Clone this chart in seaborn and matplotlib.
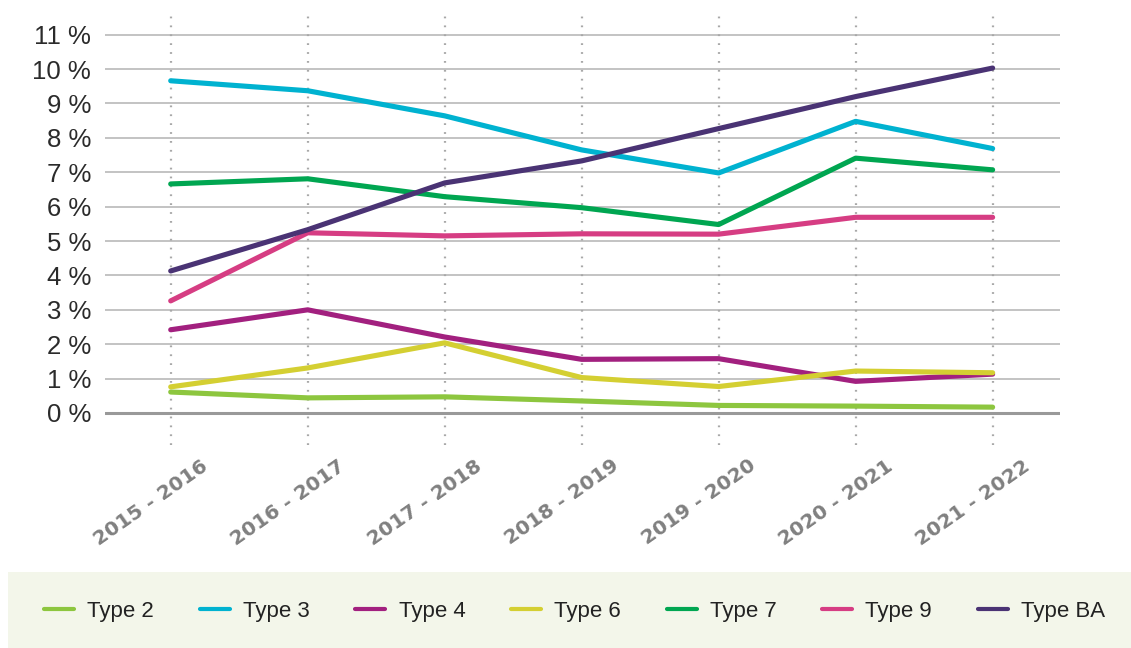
import matplotlib
matplotlib.use("Agg")
import matplotlib.pyplot as plt
import seaborn as sns
import pandas as pd
from matplotlib.patches import Rectangle
from matplotlib.lines import Line2D

periods = ["2015 - 2016", "2016 - 2017", "2017 - 2018", "2018 - 2019",
           "2019 - 2020", "2020 - 2021", "2021 - 2022"]
type_2 = [0.61, 0.44, 0.47, 0.35, 0.22, 0.20, 0.17]
type_3 = [9.66, 9.37, 8.64, 7.65, 6.98, 8.48, 7.69]
type_4 = [2.42, 3.00, 2.21, 1.56, 1.58, 0.92, 1.13]
type_6 = [0.76, 1.31, 2.04, 1.03, 0.77, 1.22, 1.17]
type_7 = [6.66, 6.81, 6.29, 5.97, 5.48, 7.41, 7.07]
type_9 = [3.26, 5.24, 5.15, 5.21, 5.20, 5.69, 5.69]
type_ba = [4.13, 5.33, 6.69, 7.33, 8.27, 9.20, 10.03]
series_names = ["Type 2", "Type 3", "Type 4", "Type 6", "Type 7", "Type 9", "Type BA"]
colors = ["#8dc63f", "#00b2d0", "#a2207f", "#d4cf32", "#00a651", "#d63d83", "#4a3374"]
y_ticks = list(range(0, 12))

series_values = [type_2, type_3, type_4, type_6, type_7, type_9, type_ba]
rows = []
for name, vals in zip(series_names, series_values):
    for i, (p, v) in enumerate(zip(periods, vals)):
        rows.append({"idx": i, "period": p, "serie": name, "value": v})
df = pd.DataFrame(rows)

sns.set_theme(style="white")
plt.rcParams['font.family'] = ['Liberation Sans', 'DejaVu Sans']

fig = plt.figure(figsize=(11.31, 6.48), dpi=100)
ax = fig.add_axes([0.0928, 0.3133, 0.937 - 0.0928, 0.9815 - 0.3133])

# grid
for t in y_ticks:
    if t == 0:
        ax.axhline(t, color="#999999", lw=2.2, zorder=1)
    else:
        ax.axhline(t, color="#b3b3b3", lw=1.1, zorder=1)
for i in range(len(periods)):
    ax.axvline(i, color="#a8a8a8", lw=1.6, ls=(0, (0.8, 3.2)), zorder=1)

sns.lineplot(data=df, x="idx", y="value", hue="serie", hue_order=series_names,
             palette=dict(zip(series_names, colors)), linewidth=3.7, ax=ax,
             legend=False, zorder=3, sort=False)
for ln in ax.get_lines():
    ln.set_solid_capstyle("round")

ax.set_xlim(-0.48, 6.49)
ax.set_ylim(-0.93, 11.66)
ax.set_yticks(y_ticks)
ax.set_yticklabels([f"{t} %" for t in y_ticks], fontsize=18.5, color="#2b2b2b")
ax.set_xticks(range(len(periods)))
ax.set_xticklabels([])
for i, p in enumerate(periods):
    ax.annotate(p, xy=(i, 0), xycoords=("data", "axes fraction"),
                xytext=(35, -19), textcoords="offset pixels",
                rotation=35, rotation_mode="anchor", ha="right", va="center",
                fontsize=14.5, fontweight="bold", color="#808080",
                family=["DejaVu Sans"], annotation_clip=False)
ax.tick_params(axis="both", length=0, pad=10)
ax.set_xlabel("")
ax.set_ylabel("")
for s in ax.spines.values():
    s.set_visible(False)

# legend strip
fig.patches.append(Rectangle((8 / 1131, 0), 1 - 8 / 1131, 76 / 648,
                             transform=fig.transFigure, facecolor="#f3f6ea",
                             edgecolor="none", zorder=0))
handles = [Line2D([0], [0], color=c, lw=3, solid_capstyle="round") for c in colors]
fig.legend(handles, series_names, loc="center", bbox_to_anchor=(0.508, 0.056),
           ncol=7, frameon=False, fontsize=16, handlelength=1.35,
           handletextpad=0.6, columnspacing=2.05, labelcolor="#222222")

fig.savefig("out.png", dpi=100)
